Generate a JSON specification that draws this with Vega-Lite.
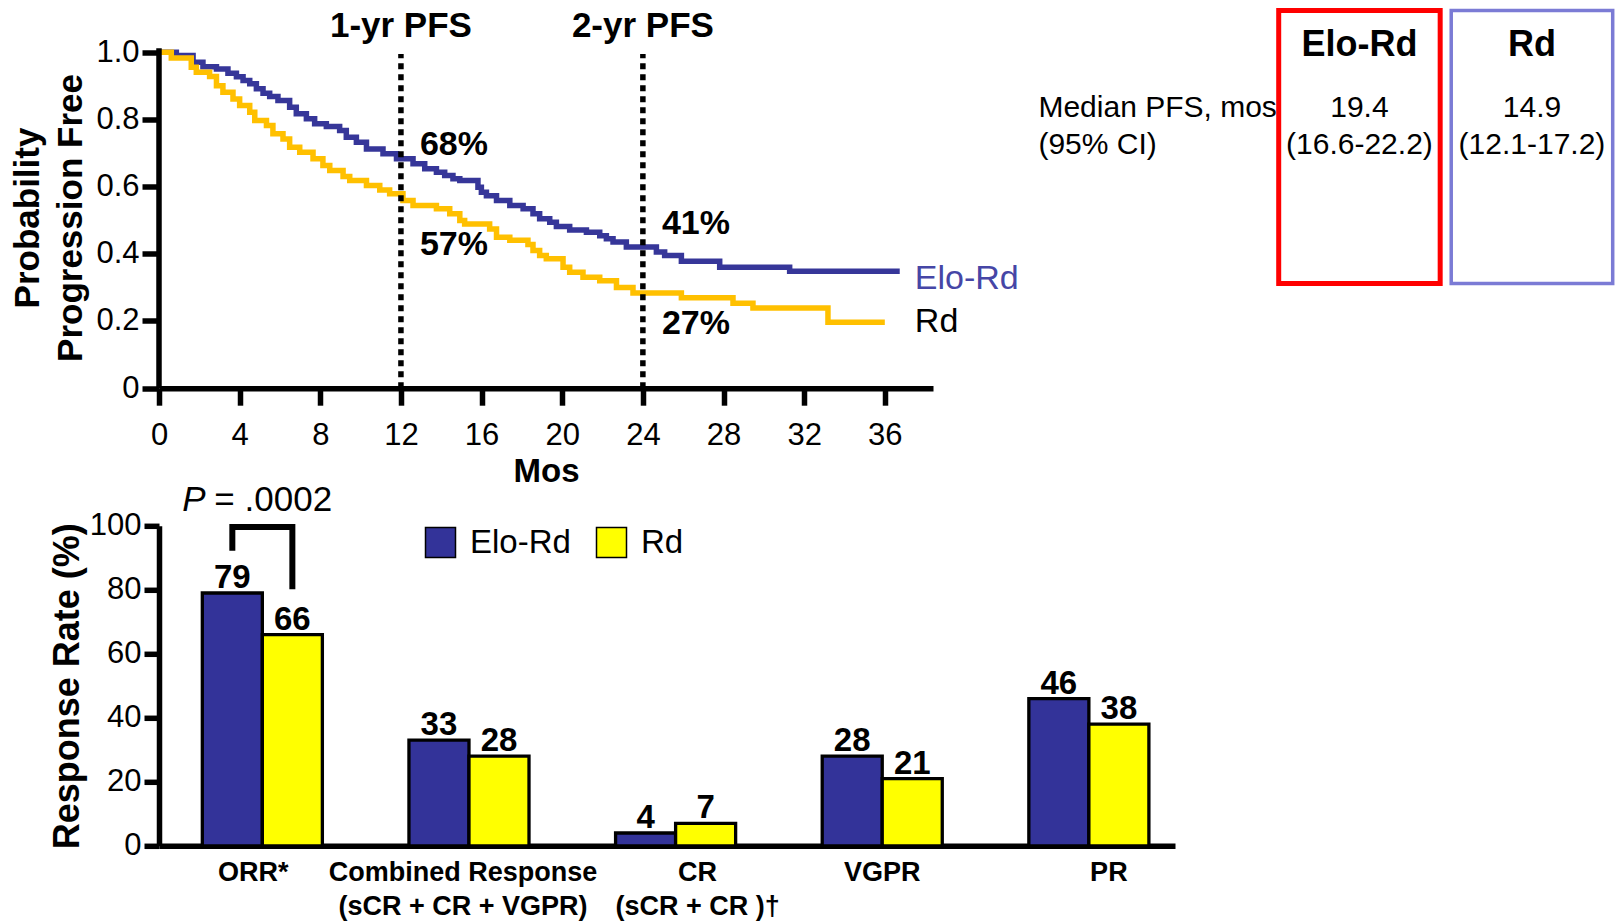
{
  "$schema": "https://vega.github.io/schema/vega-lite/v6.json",
  "background": "white",
  "padding": {"left": 10, "top": 7.5, "right": 0, "bottom": 0},
  "config": {
    "font": "Liberation Sans",
    "view": {"stroke": null},
    "axis": {"domainColor": "black", "tickColor": "black", "labelColor": "black", "titleColor": "black", "grid": false, "labelFont": "Liberation Sans", "titleFont": "Liberation Sans"},
    "legend": {"labelFont": "Liberation Sans", "labelColor": "black"}
  },
  "datasets": {
    "km": [
      {"arm":"Elo-Rd","t":0,"p":1.0},{"arm":"Elo-Rd","t":0.86,"p":0.99},{"arm":"Elo-Rd","t":1.69,"p":0.97},{"arm":"Elo-Rd","t":2.18,"p":0.957},{"arm":"Elo-Rd","t":2.85,"p":0.95},{"arm":"Elo-Rd","t":3.42,"p":0.937},{"arm":"Elo-Rd","t":3.84,"p":0.927},{"arm":"Elo-Rd","t":4.17,"p":0.916},{"arm":"Elo-Rd","t":4.5,"p":0.906},{"arm":"Elo-Rd","t":4.83,"p":0.891},{"arm":"Elo-Rd","t":5.16,"p":0.878},{"arm":"Elo-Rd","t":5.49,"p":0.868},{"arm":"Elo-Rd","t":5.9,"p":0.856},{"arm":"Elo-Rd","t":6.48,"p":0.836},{"arm":"Elo-Rd","t":6.81,"p":0.817},{"arm":"Elo-Rd","t":7.31,"p":0.802},{"arm":"Elo-Rd","t":7.72,"p":0.787},{"arm":"Elo-Rd","t":8.3,"p":0.779},{"arm":"Elo-Rd","t":8.96,"p":0.767},{"arm":"Elo-Rd","t":9.29,"p":0.747},{"arm":"Elo-Rd","t":9.79,"p":0.732},{"arm":"Elo-Rd","t":10.29,"p":0.712},{"arm":"Elo-Rd","t":11.11,"p":0.698},{"arm":"Elo-Rd","t":11.78,"p":0.683},{"arm":"Elo-Rd","t":12.6,"p":0.668},{"arm":"Elo-Rd","t":13.18,"p":0.653},{"arm":"Elo-Rd","t":13.76,"p":0.643},{"arm":"Elo-Rd","t":14.17,"p":0.633},{"arm":"Elo-Rd","t":14.58,"p":0.623},{"arm":"Elo-Rd","t":14.92,"p":0.618},{"arm":"Elo-Rd","t":15.82,"p":0.598},{"arm":"Elo-Rd","t":15.99,"p":0.583},{"arm":"Elo-Rd","t":16.24,"p":0.573},{"arm":"Elo-Rd","t":16.74,"p":0.559},{"arm":"Elo-Rd","t":17.4,"p":0.544},{"arm":"Elo-Rd","t":18.06,"p":0.534},{"arm":"Elo-Rd","t":18.55,"p":0.519},{"arm":"Elo-Rd","t":18.88,"p":0.504},{"arm":"Elo-Rd","t":19.38,"p":0.494},{"arm":"Elo-Rd","t":19.71,"p":0.481},{"arm":"Elo-Rd","t":20.37,"p":0.471},{"arm":"Elo-Rd","t":21.2,"p":0.464},{"arm":"Elo-Rd","t":21.86,"p":0.454},{"arm":"Elo-Rd","t":22.19,"p":0.445},{"arm":"Elo-Rd","t":22.52,"p":0.435},{"arm":"Elo-Rd","t":23.18,"p":0.42},{"arm":"Elo-Rd","t":24.67,"p":0.405},{"arm":"Elo-Rd","t":25.08,"p":0.395},{"arm":"Elo-Rd","t":25.91,"p":0.378},{"arm":"Elo-Rd","t":27.81,"p":0.36},{"arm":"Elo-Rd","t":31.28,"p":0.348},{"arm":"Elo-Rd","t":36.74,"p":0.348},
      {"arm":"Rd","t":0,"p":1.0},{"arm":"Rd","t":0.61,"p":0.983},{"arm":"Rd","t":1.6,"p":0.955},{"arm":"Rd","t":1.85,"p":0.94},{"arm":"Rd","t":2.51,"p":0.928},{"arm":"Rd","t":2.85,"p":0.9},{"arm":"Rd","t":3.17,"p":0.881},{"arm":"Rd","t":3.67,"p":0.861},{"arm":"Rd","t":4.0,"p":0.841},{"arm":"Rd","t":4.5,"p":0.821},{"arm":"Rd","t":4.75,"p":0.797},{"arm":"Rd","t":5.33,"p":0.782},{"arm":"Rd","t":5.65,"p":0.757},{"arm":"Rd","t":6.15,"p":0.742},{"arm":"Rd","t":6.48,"p":0.717},{"arm":"Rd","t":6.98,"p":0.702},{"arm":"Rd","t":7.64,"p":0.683},{"arm":"Rd","t":8.13,"p":0.663},{"arm":"Rd","t":8.47,"p":0.648},{"arm":"Rd","t":9.13,"p":0.63},{"arm":"Rd","t":9.46,"p":0.618},{"arm":"Rd","t":10.29,"p":0.603},{"arm":"Rd","t":10.95,"p":0.59},{"arm":"Rd","t":11.44,"p":0.579},{"arm":"Rd","t":12.1,"p":0.559},{"arm":"Rd","t":12.6,"p":0.544},{"arm":"Rd","t":13.76,"p":0.534},{"arm":"Rd","t":14.42,"p":0.519},{"arm":"Rd","t":14.92,"p":0.499},{"arm":"Rd","t":15.16,"p":0.489},{"arm":"Rd","t":16.4,"p":0.474},{"arm":"Rd","t":16.74,"p":0.449},{"arm":"Rd","t":17.4,"p":0.44},{"arm":"Rd","t":18.3,"p":0.428},{"arm":"Rd","t":18.55,"p":0.41},{"arm":"Rd","t":18.88,"p":0.395},{"arm":"Rd","t":19.21,"p":0.385},{"arm":"Rd","t":20.04,"p":0.36},{"arm":"Rd","t":20.37,"p":0.345},{"arm":"Rd","t":21.03,"p":0.33},{"arm":"Rd","t":21.86,"p":0.32},{"arm":"Rd","t":22.69,"p":0.3},{"arm":"Rd","t":23.51,"p":0.283},{"arm":"Rd","t":25.91,"p":0.269},{"arm":"Rd","t":28.47,"p":0.253},{"arm":"Rd","t":29.46,"p":0.239},{"arm":"Rd","t":33.18,"p":0.196},{"arm":"Rd","t":36.0,"p":0.196}
    ],
    "pfsmark": [{"t": 12, "p": 1.045, "head": "1-yr PFS"}, {"t": 24, "p": 1.045, "head": "2-yr PFS"}],
    "pct": [{"t": 12, "p": 0.6926, "lab": "68%"}, {"t": 12, "p": 0.395, "lab": "57%"}, {"t": 24, "p": 0.4595, "lab": "41%"}, {"t": 24, "p": 0.162, "lab": "27%"}],
    "ends": [{"t": 37.49, "p": 0.296, "arm": "Elo-Rd"}, {"t": 37.49, "p": 0.1667, "arm": "Rd"}],
    "cells": [
      {"col": "Elo-Rd", "line": 0, "txt": "Elo-Rd"}, {"col": "Rd", "line": 0, "txt": "Rd"},
      {"col": "Elo-Rd", "line": 1, "txt": "19.4"}, {"col": "Elo-Rd", "line": 2, "txt": "(16.6-22.2)"},
      {"col": "Rd", "line": 1, "txt": "14.9"}, {"col": "Rd", "line": 2, "txt": "(12.1-17.2)"}
    ],
    "rowlabels": [{"line": 1, "txt": "Median PFS, mos"}, {"line": 2, "txt": "(95% CI)"}],
    "resp": [
      {"cat": "ORR*", "arm": "Elo-Rd", "value": 79}, {"cat": "ORR*", "arm": "Rd", "value": 66},
      {"cat": "Combined Response|(sCR + CR + VGPR)", "arm": "Elo-Rd", "value": 33}, {"cat": "Combined Response|(sCR + CR + VGPR)", "arm": "Rd", "value": 28},
      {"cat": "CR|(sCR + CR )†", "arm": "Elo-Rd", "value": 4}, {"cat": "CR|(sCR + CR )†", "arm": "Rd", "value": 7},
      {"cat": "VGPR", "arm": "Elo-Rd", "value": 28}, {"cat": "VGPR", "arm": "Rd", "value": 21},
      {"cat": "PR", "arm": "Elo-Rd", "value": 46}, {"cat": "PR", "arm": "Rd", "value": 38}
    ],
    "bracket": [
      {"cat": "ORR*", "arm": "Elo-Rd", "value": 92.2, "k": 1}, {"cat": "ORR*", "arm": "Elo-Rd", "value": 99.6, "k": 2},
      {"cat": "ORR*", "arm": "Rd", "value": 99.6, "k": 3}, {"cat": "ORR*", "arm": "Rd", "value": 80.2, "k": 4}
    ],
    "pval": [{"cat": "ORR*", "sym": "P", "rest": "= .0002"}]
  },
  "bounds": "flush",
  "align": "each",
  "columns": 2,
  "spacing": {"row": 137.3, "column": 103.7},
  "resolve": {"scale": {"fill": "independent", "stroke": "independent"}, "legend": {"fill": "independent", "stroke": "independent"}},
  "concat": [
    {
      "width": 774,
      "height": 377.7,
      "layer": [
        {
          "data": {"name": "km"},
          "mark": {"type": "line", "interpolate": "step-after", "strokeWidth": 5.5},
          "encoding": {
            "x": {"field": "t", "type": "quantitative", "scale": {"domain": [0, 38.39], "nice": false, "zero": false},
              "axis": {"values": [0, 4, 8, 12, 16, 20, 24, 28, 32, 36], "title": "Mos", "titleFontSize": 33, "titleFontWeight": "bold", "titlePadding": 5, "labelFontSize": 31, "labelPadding": 15, "tickSize": 17, "tickWidth": 5.5, "domainWidth": 5.5, "labelFlush": false, "labelOverlap": false}},
            "y": {"field": "p", "type": "quantitative", "scale": {"domain": [0, 1.1241], "nice": false},
              "axis": {"values": [0, 0.2, 0.4, 0.6, 0.8, 1], "domain": false, "labelExpr": "datum.value === 0 ? '0' : format(datum.value, '.1f')", "title": ["Probability", "Progression Free"], "titleY": 207, "titleFontSize": 35, "titleFontWeight": "bold", "titleLineHeight": 43, "titlePadding": 7, "labelFontSize": 31, "labelPadding": 3, "tickSize": 17, "tickWidth": 5.5, "labelFlush": false, "labelOverlap": false}},
            "stroke": {"field": "arm", "type": "nominal", "scale": {"domain": ["Elo-Rd", "Rd"], "range": ["#363699", "#FFC000"]}, "legend": null}
          }
        },
        {
          "data": {"name": "pfsmark"},
          "mark": {"type": "rule", "strokeWidth": 5.5, "color": "black"},
          "transform": [{"filter": "datum.t === 12"}],
          "encoding": {
            "x": {"datum": 0, "type": "quantitative"},
            "y": {"datum": 0, "type": "quantitative"},
            "y2": {"datum": 1.012}
          }
        },
        {
          "data": {"name": "pfsmark"},
          "mark": {"type": "rule", "strokeDash": [6, 5], "strokeWidth": 5.5, "color": "black"},
          "encoding": {
            "x": {"field": "t", "type": "quantitative"},
            "y": {"datum": 0, "type": "quantitative"},
            "y2": {"datum": 0.995}
          }
        },
        {
          "data": {"name": "pfsmark"},
          "mark": {"type": "text", "fontSize": 35, "fontWeight": "bold", "align": "center", "baseline": "alphabetic", "color": "black"},
          "encoding": {
            "x": {"field": "t", "type": "quantitative"},
            "y": {"field": "p", "type": "quantitative"},
            "text": {"field": "head"}
          }
        },
        {
          "data": {"name": "pct"},
          "mark": {"type": "text", "fontSize": 34, "fontWeight": "bold", "align": "left", "baseline": "alphabetic", "dx": 19, "color": "black"},
          "encoding": {
            "x": {"field": "t", "type": "quantitative"},
            "y": {"field": "p", "type": "quantitative"},
            "text": {"field": "lab"}
          }
        },
        {
          "data": {"name": "ends"},
          "transform": [{"filter": "datum.arm === 'Elo-Rd'"}],
          "mark": {"type": "text", "fontSize": 34, "align": "left", "baseline": "alphabetic", "color": "#4646A6"},
          "encoding": {
            "x": {"field": "t", "type": "quantitative"},
            "y": {"field": "p", "type": "quantitative"},
            "text": {"field": "arm"}
          }
        },
        {
          "data": {"name": "ends"},
          "transform": [{"filter": "datum.arm === 'Rd'"}],
          "mark": {"type": "text", "fontSize": 34, "align": "left", "baseline": "alphabetic", "color": "black"},
          "encoding": {
            "x": {"field": "t", "type": "quantitative"},
            "y": {"field": "p", "type": "quantitative"},
            "text": {"field": "arm"}
          }
        }
      ]
    },
    {
      "width": 334,
      "height": 273,
      "layer": [
        {
          "data": {"name": "rowlabels"},
          "mark": {"type": "text", "fontSize": 30, "align": "left", "baseline": "middle", "dx": -321, "color": "black"},
          "encoding": {
            "x": {"datum": "Elo-Rd", "type": "nominal", "scale": {"domain": ["Elo-Rd", "Rd"], "paddingInner": 0.064, "paddingOuter": 0}, "axis": null},
            "y": {"field": "line", "type": "quantitative", "scale": {"domain": [-1.635, 5.743], "reverse": true, "nice": false, "zero": false}, "axis": null},
            "text": {"field": "txt"}
          }
        },
        {
          "data": {"name": "cells"},
          "transform": [{"filter": "datum.line > 0"}],
          "mark": {"type": "text", "fontSize": 30, "align": "center", "baseline": "middle", "color": "black"},
          "encoding": {
            "x": {"field": "col", "type": "nominal"},
            "y": {"field": "line", "type": "quantitative"},
            "text": {"field": "txt"}
          }
        },
        {
          "data": {"name": "cells"},
          "transform": [{"filter": "datum.line === 0"}],
          "mark": {"type": "text", "fontSize": 36, "fontWeight": "bold", "align": "center", "baseline": "middle", "dy": -26, "color": "black"},
          "encoding": {
            "x": {"field": "col", "type": "nominal"},
            "y": {"field": "line", "type": "quantitative"},
            "text": {"field": "txt"}
          }
        },
        {
          "data": {"name": "cells"},
          "transform": [{"filter": "datum.line === 0 && datum.col === 'Elo-Rd'"}],
          "mark": {"type": "bar", "fillOpacity": 0, "fill": "white", "stroke": "#FF0000", "strokeWidth": 5},
          "encoding": {
            "x": {"field": "col", "type": "nominal"}
          }
        },
        {
          "data": {"name": "cells"},
          "transform": [{"filter": "datum.line === 0 && datum.col === 'Rd'"}],
          "mark": {"type": "bar", "fillOpacity": 0, "fill": "white", "stroke": "#7B7BD5", "strokeWidth": 3.5},
          "encoding": {
            "x": {"field": "col", "type": "nominal"}
          }
        }
      ]
    },
    {
      "width": 1016,
      "height": 320,
      "layer": [
        {
          "data": {"name": "resp"},
          "mark": {"type": "bar", "stroke": "black", "strokeWidth": 3.3},
          "encoding": {
            "x": {"field": "cat", "type": "nominal",
              "scale": {"domain": ["ORR*", "Combined Response|(sCR + CR + VGPR)", "CR|(sCR + CR )†", "VGPR", "PR"], "paddingInner": 0.419, "paddingOuter": 0.168, "align": 0.624},
              "axis": {"title": null, "labelAngle": 0, "labelExpr": "split(datum.value, '|')", "labelFontSize": 27, "labelFontWeight": "bold", "labelLineHeight": 34, "labelPadding": 14, "ticks": false, "domainWidth": 5.5, "labelLimit": 500,
                "labelOffset": {"condition": [
                  {"test": "datum.value === 'ORR*'", "value": -9},
                  {"test": "datum.value === 'Combined Response|(sCR + CR + VGPR)'", "value": -6},
                  {"test": "datum.value === 'CR|(sCR + CR )†'", "value": 22},
                  {"test": "datum.value === 'PR'", "value": 20}
                ], "value": 0}}},
            "xOffset": {"field": "arm", "type": "nominal", "scale": {"domain": ["Elo-Rd", "Rd"], "paddingInner": 0, "paddingOuter": 0}},
            "y": {"field": "value", "type": "quantitative", "scale": {"domain": [0, 100], "nice": false},
              "axis": {"values": [0, 20, 40, 60, 80, 100], "title": "Response Rate (%)", "titleFontSize": 36, "titleFontWeight": "bold", "titlePadding": 3, "labelFontSize": 31, "labelPadding": 3, "tickSize": 15, "tickWidth": 5.5, "domainWidth": 5.5, "labelFlush": false, "labelOverlap": false}},
            "fill": {"field": "arm", "type": "nominal", "scale": {"domain": ["Elo-Rd", "Rd"], "range": ["#333399", "#FFFF00"]},
              "legend": {"orient": "none", "legendX": 265, "legendY": 0, "direction": "horizontal", "title": null, "symbolType": "square", "symbolSize": 900, "symbolStrokeColor": "black", "symbolStrokeWidth": 1.5, "labelFontSize": 33, "labelOffset": 13, "columnPadding": 22, "padding": 0}}
          }
        },
        {
          "data": {"name": "resp"},
          "mark": {"type": "text", "fontSize": 33, "fontWeight": "bold", "baseline": "alphabetic", "dy": -5, "color": "black"},
          "encoding": {
            "x": {"field": "cat", "type": "nominal"},
            "xOffset": {"field": "arm", "type": "nominal"},
            "y": {"field": "value", "type": "quantitative"},
            "text": {"field": "value"}
          }
        },
        {
          "data": {"name": "bracket"},
          "mark": {"type": "line", "color": "black", "strokeWidth": 6, "strokeJoin": "miter"},
          "encoding": {
            "x": {"field": "cat", "type": "nominal"},
            "xOffset": {"field": "arm", "type": "nominal"},
            "y": {"field": "value", "type": "quantitative"},
            "order": {"field": "k"}
          }
        },
        {
          "data": {"name": "pval"},
          "mark": {"type": "text", "fontSize": 35, "fontStyle": "italic", "align": "left", "baseline": "alphabetic", "dx": -80, "dy": -15, "color": "black"},
          "encoding": {
            "x": {"field": "cat", "type": "nominal"},
            "y": {"datum": 100, "type": "quantitative"},
            "text": {"field": "sym"}
          }
        },
        {
          "data": {"name": "pval"},
          "mark": {"type": "text", "fontSize": 35, "align": "left", "baseline": "alphabetic", "dx": -48, "dy": -15, "color": "black"},
          "encoding": {
            "x": {"field": "cat", "type": "nominal"},
            "y": {"datum": 100, "type": "quantitative"},
            "text": {"field": "rest"}
          }
        }
      ]
    }
  ]
}
